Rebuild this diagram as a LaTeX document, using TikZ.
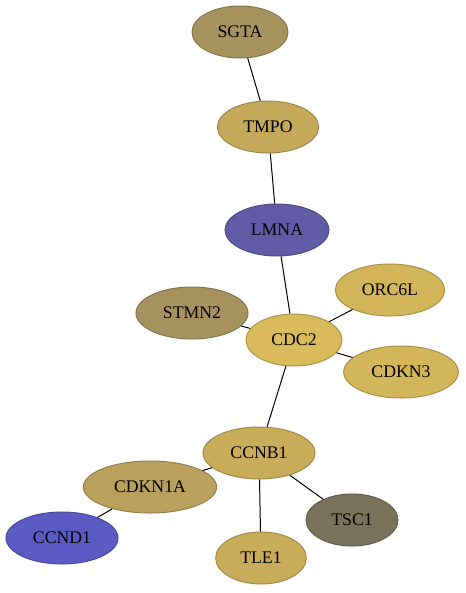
\documentclass[tikz,border=0pt]{standalone}
\usepackage{fontspec}
\setmainfont{Liberation Serif}
\usetikzlibrary{shapes.geometric}

\definecolor{sgtafill}{HTML}{A6935E}
\definecolor{tmpofill}{HTML}{C4A95A}
\definecolor{lmnafill}{HTML}{615CA5}
\definecolor{orcfill}{HTML}{D3B55A}
\definecolor{stmnfill}{HTML}{A69360}
\definecolor{cdcfill}{HTML}{D9BB5C}
\definecolor{ccnbfill}{HTML}{C9AC5A}
\definecolor{cdknafill}{HTML}{B9A05C}
\definecolor{tscfill}{HTML}{7A735C}
\definecolor{ccndfill}{HTML}{5C5BC4}

\tikzset{
  gene/.style={ellipse, draw=#1!80!black, fill=#1, line width=0.75pt,
    inner sep=0pt, minimum height=39pt,
    font=\fontsize{13.3}{16}\selectfont},
  link/.style={draw=black, line width=0.75pt}
}

\begin{document}
\begin{tikzpicture}[x=0.75pt, y=-0.75pt]

  % Canvas
  \useasboundingbox (0,0) rectangle (465,593);

  % Genes
  \node[gene=sgtafill, minimum width=72pt] (SGTA) at (240,32) {SGTA};
  \node[gene=tmpofill, minimum width=76pt] (TMPO) at (268,127) {TMPO};
  \node[gene=lmnafill, minimum width=78pt] (LMNA) at (277,230) {LMNA};
  \node[gene=orcfill, minimum width=82pt] (ORC6L) at (390,290) {ORC6L};
  \node[gene=stmnfill, minimum width=84pt] (STMN2) at (192,313) {STMN2};
  \node[gene=cdcfill, minimum width=72pt] (CDC2) at (294,340) {CDC2};
  \node[gene=orcfill, minimum width=86pt] (CDKN3) at (401,372) {CDKN3};
  \node[gene=ccnbfill, minimum width=84pt] (CCNB1) at (259,453) {CCNB1};
  \node[gene=cdknafill, minimum width=100pt] (CDKN1A) at (150,487) {CDKN1A};
  \node[gene=tscfill, minimum width=69pt] (TSC1) at (352,520) {TSC1};
  \node[gene=ccndfill, minimum width=84pt] (CCND1) at (62,538) {CCND1};
  \node[gene=ccnbfill, minimum width=68pt] (TLE1) at (261,558) {TLE1};

  % Interactions
  \draw[link] (SGTA) -- (TMPO);
  \draw[link] (TMPO) -- (LMNA);
  \draw[link] (LMNA) -- (CDC2);
  \draw[link] (CDC2) -- (ORC6L);
  \draw[link] (CDC2) -- (STMN2);
  \draw[link] (CDC2) -- (CDKN3);
  \draw[link] (CDC2) -- (CCNB1);
  \draw[link] (CCNB1) -- (CDKN1A);
  \draw[link] (CCNB1) -- (TLE1);
  \draw[link] (CCNB1) -- (TSC1);
  \draw[link] (CDKN1A) -- (CCND1);

\end{tikzpicture}
\end{document}
